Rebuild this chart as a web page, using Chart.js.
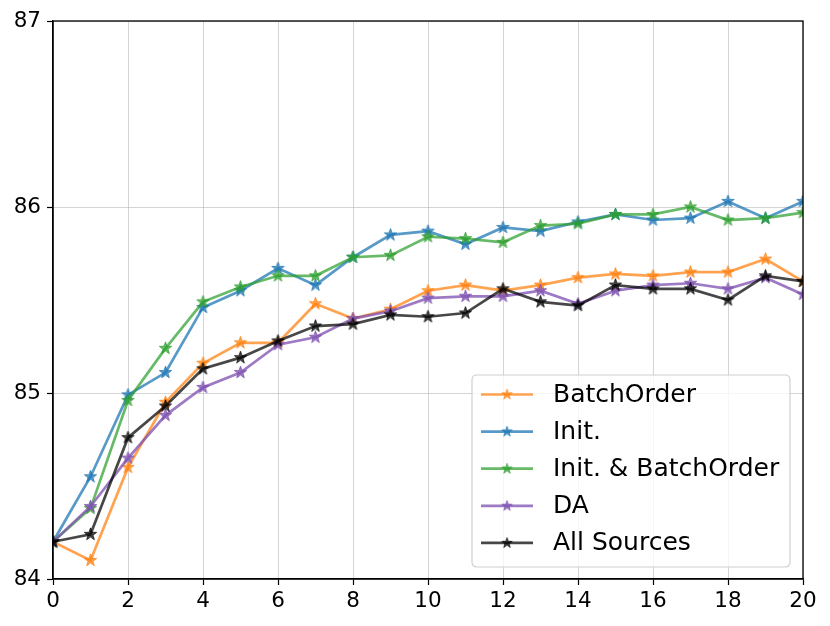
<!DOCTYPE html>
<html>
<head>
<meta charset="utf-8">
<script src="https://cdn.jsdelivr.net/npm/chart.js@4.4.0/dist/chart.umd.min.js"></script>
<style>
  html, body { margin: 0; padding: 0; background: #ffffff; }
  #wrap { width: 830px; height: 626px; }
</style>
</head>
<body>
<div id="wrap"><canvas id="c" width="830" height="626"></canvas></div>
<script>
const steps = [0,1,2,3,4,5,6,7,8,9,10,11,12,13,14,15,16,17,18,19,20];
const seriesNames = ["BatchOrder", "Init.", "Init. & BatchOrder", "DA", "All Sources"];
const batchOrder = [84.20, 84.10, 84.60, 84.95, 85.16, 85.27, 85.27, 85.48, 85.40, 85.45, 85.55, 85.58, 85.55, 85.58, 85.62, 85.64, 85.63, 85.65, 85.65, 85.72, 85.60];
const init = [84.20, 84.55, 84.99, 85.11, 85.46, 85.55, 85.67, 85.58, 85.73, 85.85, 85.87, 85.80, 85.89, 85.87, 85.92, 85.96, 85.93, 85.94, 86.03, 85.94, 86.03];
const initBatchOrder = [84.20, 84.38, 84.96, 85.24, 85.49, 85.57, 85.63, 85.63, 85.73, 85.74, 85.84, 85.83, 85.81, 85.90, 85.91, 85.96, 85.96, 86.00, 85.93, 85.94, 85.97];
const da = [84.20, 84.39, 84.65, 84.88, 85.03, 85.11, 85.26, 85.30, 85.40, 85.44, 85.51, 85.52, 85.52, 85.55, 85.48, 85.55, 85.58, 85.59, 85.56, 85.62, 85.53];
const allSources = [84.20, 84.24, 84.76, 84.93, 85.13, 85.19, 85.28, 85.36, 85.37, 85.42, 85.41, 85.43, 85.56, 85.49, 85.47, 85.58, 85.56, 85.56, 85.50, 85.63, 85.60];
const yTicks = [84, 85, 86, 87];
const xTicks = [0, 2, 4, 6, 8, 10, 12, 14, 16, 18, 20];

const seriesValues = [batchOrder, init, initBatchOrder, da, allSources];
const colors = ["rgba(255,127,14,0.72)", "rgba(31,119,180,0.75)", "rgba(44,160,44,0.72)", "rgba(130,85,178,0.78)", "rgba(0,0,0,0.72)"];

function starCanvas(color, r) {
  const size = Math.ceil(r * 2 + 4);
  const cv = document.createElement('canvas');
  cv.width = size; cv.height = size;
  const g = cv.getContext('2d');
  const cx = size / 2, cy = size / 2;
  const ri = r * 0.4;
  g.beginPath();
  for (let i = 0; i < 10; i++) {
    const rr = i % 2 === 0 ? r : ri;
    const a = -Math.PI / 2 + i * Math.PI / 5;
    const px = cx + rr * Math.cos(a), py = cy + rr * Math.sin(a);
    if (i === 0) g.moveTo(px, py); else g.lineTo(px, py);
  }
  g.closePath();
  g.fillStyle = color;
  g.fill();
  g.lineWidth = 1;
  g.strokeStyle = color;
  g.stroke();
  return cv;
}

const stars = colors.map(c => starCanvas(c, 6.5));

const datasets = seriesNames.map((name, i) => ({
  label: name,
  data: seriesValues[i].map((v, k) => ({ x: steps[k], y: v })),
  borderColor: colors[i],
  backgroundColor: colors[i],
  borderWidth: 2.7,
  pointStyle: stars[i],
  pointRadius: 6,
  pointHoverRadius: 6,
  tension: 0,
  fill: false,
  order: seriesNames.length - i
}));

const frameAndLegend = {
  id: 'frameAndLegend',
  afterDraw(chart) {
    const ctx = chart.ctx;
    const a = chart.chartArea;
    ctx.save();
    ctx.strokeStyle = '#000000';
    ctx.lineWidth = 1.3;
    ctx.strokeRect(a.left, a.top, a.right - a.left, a.bottom - a.top);

    // legend
    const w = 318, h = 192;
    const lx = a.right - 13 - w, ly = a.bottom - 12 - h;
    const rad = 5;
    ctx.beginPath();
    ctx.moveTo(lx + rad, ly);
    ctx.lineTo(lx + w - rad, ly);
    ctx.quadraticCurveTo(lx + w, ly, lx + w, ly + rad);
    ctx.lineTo(lx + w, ly + h - rad);
    ctx.quadraticCurveTo(lx + w, ly + h, lx + w - rad, ly + h);
    ctx.lineTo(lx + rad, ly + h);
    ctx.quadraticCurveTo(lx, ly + h, lx, ly + h - rad);
    ctx.lineTo(lx, ly + rad);
    ctx.quadraticCurveTo(lx, ly, lx + rad, ly);
    ctx.closePath();
    ctx.fillStyle = 'rgba(255,255,255,0.8)';
    ctx.fill();
    ctx.strokeStyle = '#d0d0d0';
    ctx.lineWidth = 1.2;
    ctx.stroke();

    ctx.font = '25px "DejaVu Sans"';
    ctx.textBaseline = 'middle';
    ctx.textAlign = 'left';
    chart.data.datasets.forEach((ds, i) => {
      const ry = ly + 19.5 + i * 37.1;
      ctx.strokeStyle = ds.borderColor;
      ctx.lineWidth = 2.7;
      ctx.beginPath();
      ctx.moveTo(lx + 9, ry);
      ctx.lineTo(lx + 61, ry);
      ctx.stroke();
      const st = ds.pointStyle;
      ctx.drawImage(st, lx + 35 - st.width / 2 * 0.85, ry - st.height / 2 * 0.85, st.width * 0.85, st.height * 0.85);
      ctx.fillStyle = '#000000';
      ctx.fillText(ds.label, lx + 81, ry + 1);
    });
    ctx.restore();
  }
};

new Chart(document.getElementById('c'), {
  type: 'line',
  data: { datasets },
  options: {
    responsive: false,
    animation: false,
    devicePixelRatio: 1,
    layout: { padding: { top: 21, right: 27, left: 0, bottom: 0 } },
    plugins: {
      legend: { display: false },
      tooltip: { enabled: false }
    },
    scales: {
      x: {
        type: 'linear',
        min: 0,
        max: 20,
        afterBuildTicks(scale) { scale.ticks = xTicks.map(v => ({ value: v })); },
        afterFit(scale) { scale.height = 47; },
        ticks: {
          color: '#000000',
          font: { family: 'DejaVu Sans', size: 21.5 },
          padding: 4,
          maxRotation: 0,
          autoSkip: false
        },
        grid: {
          color: 'rgba(176,176,176,0.55)',
          lineWidth: 1,
          tickColor: '#000000',
          tickLength: 6,
          tickWidth: 1.2
        },
        border: { display: true, color: '#000000', width: 1.3 }
      },
      y: {
        type: 'linear',
        min: 84,
        max: 87,
        afterBuildTicks(scale) { scale.ticks = yTicks.map(v => ({ value: v })); },
        afterFit(scale) { scale.width = 53; },
        ticks: {
          color: '#000000',
          font: { family: 'DejaVu Sans', size: 21.5 },
          padding: 6,
          autoSkip: false
        },
        grid: {
          color: 'rgba(176,176,176,0.55)',
          lineWidth: 1,
          tickColor: '#000000',
          tickLength: 6,
          tickWidth: 1.2
        },
        border: { display: true, color: '#000000', width: 1.3 }
      }
    }
  },
  plugins: [frameAndLegend]
});
</script>
</body>
</html>
